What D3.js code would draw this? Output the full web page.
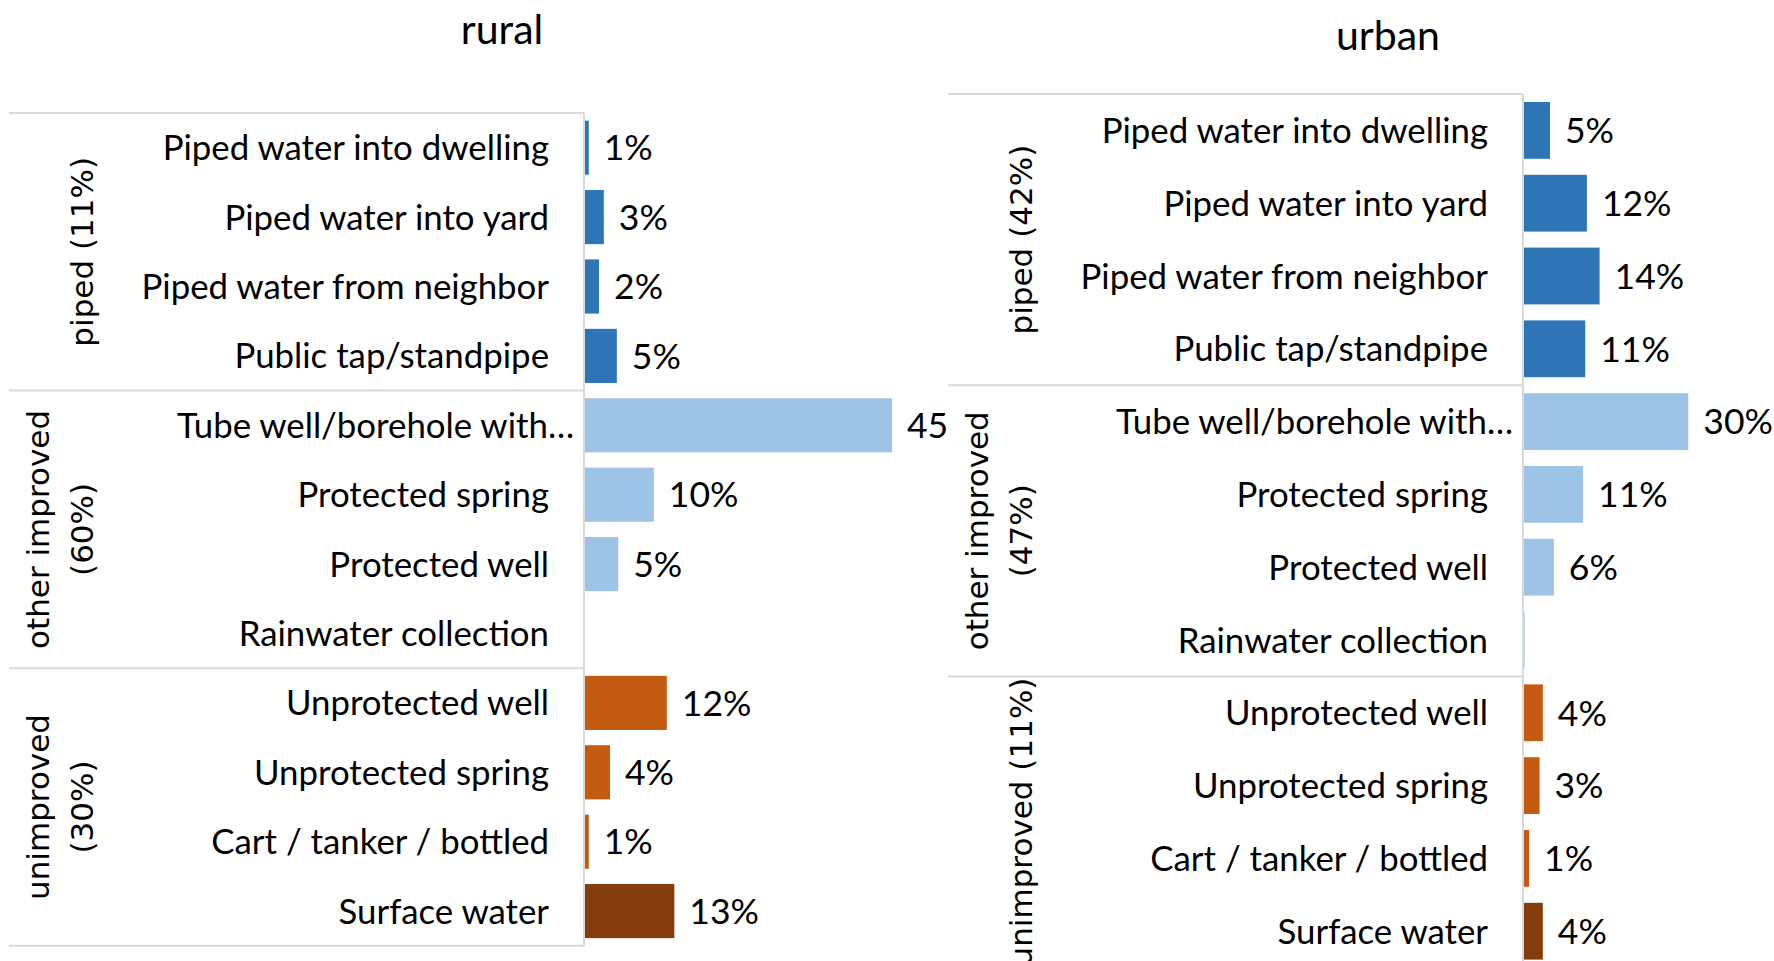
<!DOCTYPE html>
<html>
<head>
<meta charset="utf-8">
<script src="https://cdn.jsdelivr.net/npm/d3@7/dist/d3.min.js"></script>
<style>
  body { margin: 0; background: #fff; }
  svg { display: block; }
</style>
</head>
<body>
<svg id="chart"></svg>
<script>
// data (percent of households)
const categories = [
  "Piped water into dwelling",
  "Piped water into yard",
  "Piped water from neighbor",
  "Public tap/standpipe",
  "Tube well/borehole with\u2026",
  "Protected spring",
  "Protected well",
  "Rainwater collection",
  "Unprotected well",
  "Unprotected spring",
  "Cart / tanker / bottled",
  "Surface water",
];
const categoryGroups = [
  "piped", "piped", "piped", "piped",
  "other improved", "other improved", "other improved", "other improved",
  "unimproved", "unimproved", "unimproved", "surface",
];
const groupNames = ["piped", "other improved", "unimproved"];

const ruralValues = [0.7, 2.9, 2.2, 4.8, 45.0, 10.2, 5.0, 0, 12.1, 3.8, 0.7, 13.2];
const urbanValues = [4.9, 11.6, 13.9, 11.3, 30.0, 10.9, 5.6, 0.3, 3.6, 3.0, 1.1, 3.6];
const ruralGroupShares = [11, 60, 30];
const urbanGroupShares = [42, 47, 11];

const W = 1774, H = 961;
const labelFont = "Lato, 'Open Sans', sans-serif";
const groupFont = "'DejaVu Sans', Verdana, sans-serif";

const color = d3.scaleOrdinal()
  .domain(["piped", "other improved", "unimproved", "surface"])
  .range(["#2e75b6", "#9dc3e6", "#c55a11", "#843c0c"]);

const panels = [
  { id: "rural", title: "rural", values: ruralValues, shares: ruralGroupShares,
    left: 9, axisX: 584, top: 113, step: 69.4, pxPerPct: 6.844,
    titleX: 502, titleY: 44, clipRight: 949 },
  { id: "urban", title: "urban", values: urbanValues, shares: urbanGroupShares,
    left: 948, axisX: 1523, top: 94, step: 72.8, pxPerPct: 5.51,
    titleX: 1388, titleY: 50, clipRight: W },
];

const svg = d3.select("#chart").attr("width", W).attr("height", H);

panels.forEach((p) => {
  svg.append("clipPath").attr("id", "clip-" + p.id)
    .append("rect").attr("x", p.left - 9).attr("y", 0)
    .attr("width", p.clipRight - p.left + 9).attr("height", H);

  const g = svg.append("g").attr("clip-path", `url(#clip-${p.id})`);

  const y = d3.scaleBand()
    .domain(categories)
    .range([p.top, p.top + p.step * categories.length])
    .paddingInner(0.22)
    .paddingOuter(0.11);
  const x = d3.scaleLinear().domain([0, 50]).range([p.axisX, p.axisX + 50 * p.pxPerPct]);
  const edge = (i) => y.range()[0] + i * y.step();

  // title
  g.append("text")
    .attr("x", p.titleX).attr("y", p.titleY)
    .attr("text-anchor", "middle")
    .style("font-family", labelFont).style("font-size", "41px")
    .text(p.title);

  // group separators of the category axis
  g.selectAll("line.sep")
    .data([0, 4, 8, 12])
    .join("line")
    .attr("class", "sep")
    .attr("x1", p.left).attr("x2", p.axisX)
    .attr("y1", (d) => edge(d)).attr("y2", (d) => edge(d))
    .attr("stroke", "#d9d9d9").attr("stroke-width", 2);

  // bars
  g.selectAll("rect.bar")
    .data(categories)
    .join("rect")
    .attr("class", "bar")
    .attr("x", x(0))
    .attr("y", (d) => y(d))
    .attr("width", (d, i) => x(p.values[i]) - x(0))
    .attr("height", y.bandwidth())
    .attr("fill", (d, i) => color(categoryGroups[i]));

  // axis line
  g.append("line")
    .attr("x1", p.axisX).attr("x2", p.axisX)
    .attr("y1", edge(0)).attr("y2", edge(12))
    .attr("stroke", "#d9d9d9").attr("stroke-width", 2);

  // category labels
  g.selectAll("text.cat")
    .data(categories)
    .join("text")
    .attr("class", "cat")
    .attr("x", (d) => p.axisX - (d.endsWith("\u2026") ? 10 : 35))
    .attr("y", (d) => y(d) + y.bandwidth() / 2)
    .attr("dy", "0.36em")
    .attr("text-anchor", "end")
    .style("font-family", labelFont).style("font-size", "34.8px")
    .text((d) => d);

  // value labels
  g.selectAll("text.val")
    .data(categories.filter((d, i) => Math.round(p.values[i]) > 0))
    .join("text")
    .attr("class", "val")
    .attr("x", (d) => x(p.values[categories.indexOf(d)]) + 15)
    .attr("y", (d) => y(d) + y.bandwidth() / 2)
    .attr("dy", "0.36em")
    .style("font-family", labelFont).style("font-size", "35.5px")
    .text((d) => Math.round(p.values[categories.indexOf(d)]) + "%");

  // group labels, rotated, wrapped when longer than the group span
  groupNames.forEach((name, gi) => {
    const cy = edge(gi * 4 + 2);
    const full = `${name} (${p.shares[gi]}%)`;
    const probe = g.append("text")
      .style("font-family", groupFont).style("font-size", "31px").text(full);
    const len = probe.node().getComputedTextLength();
    probe.remove();
    const lines = len > 4 * y.step() + 2 ? [name, `(${p.shares[gi]}%)`] : [full];
    lines.forEach((line, li) => {
      const cx = p.left + 73 - (lines.length - 1 - li) * 44;
      g.append("text")
        .attr("transform", `translate(${cx},${cy}) rotate(-90)`)
        .attr("text-anchor", "middle")
        .attr("dominant-baseline", "central")
        .style("font-family", groupFont).style("font-size", "31px")
        .text(line);
    });
  });
});
</script>
</body>
</html>
